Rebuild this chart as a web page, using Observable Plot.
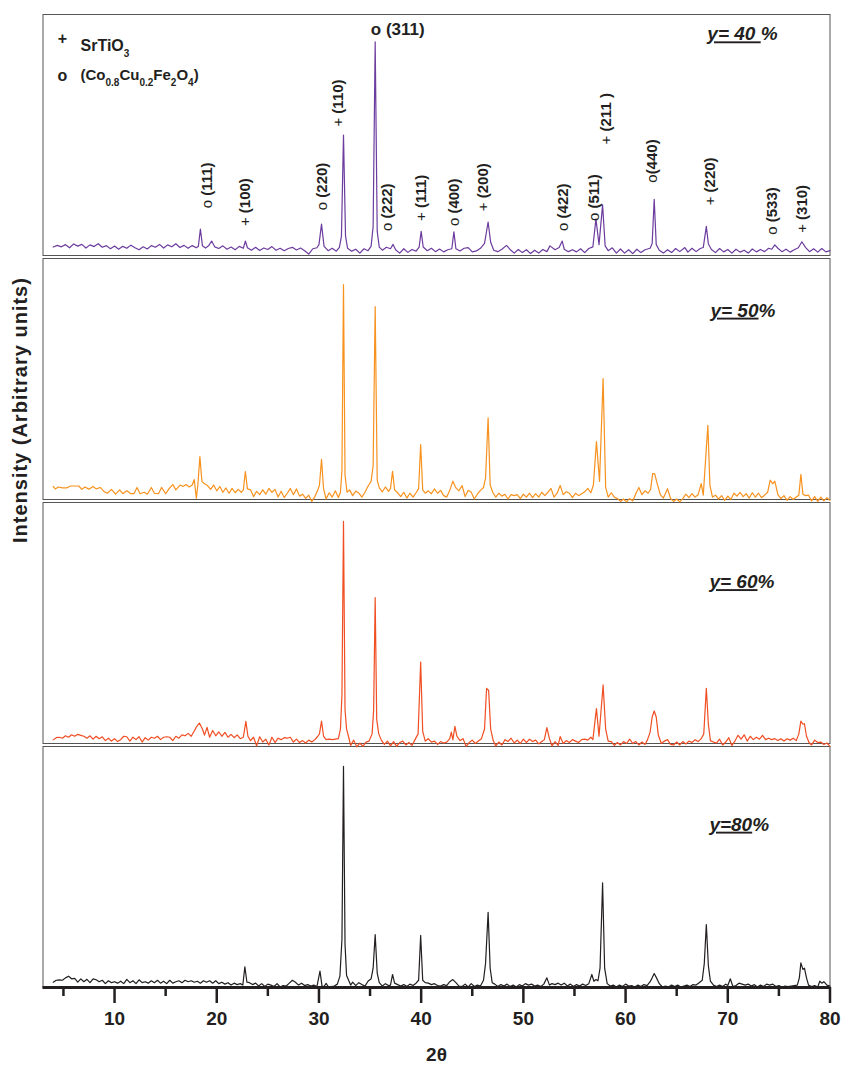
<!DOCTYPE html>
<html><head><meta charset="utf-8">
<script src="https://cdn.jsdelivr.net/npm/d3@7"></script>
<script src="https://cdn.jsdelivr.net/npm/@observablehq/plot@0.6"></script>
<style>
body{margin:0;background:#fff;}
#chart svg{display:block;}
</style>
</head><body><div id="chart"></div>
<script>
// ---- panels ----
const panels = ["40", "50", "60", "80"];
const panelLabels = ["y= 40 %", "y= 50%", "y= 60%", "y=80%"];
const panelColors = ["#6c3c9e", "#f7921e", "#f04e23", "#231f20"];
const panelLabelX = [68.0, 68.3, 68.2, 68.2];
const panelLabelY = [91.8, 78.4, 67.0, 67.6];

// ---- axis ----
const majorTicks = [10, 20, 30, 40, 50, 60, 70, 80];
const minorTicks = [5, 15, 25, 35, 45, 55, 65, 75];
const xTitle = "2θ";
const yTitle = "Intensity (Arbitrary units)";

// ---- legend (top panel) ----
const legendMarkers = ["+", "o"];
const legendNames = ["SrTiO3", "(Co0.8Cu0.2Fe2O4)"];
const legendNameSize = [16, 15];
const legendMarkerY = [89.8, 74.7];
const legendNameY = [86.9, 74.7];

// ---- peak annotations (top panel) ----
const peakLabels = ["o (111)", "+ (100)", "o (220)", "+ (110)", "o (222)", "+ (111)", "o (400)", "+ (200)", "o (422)", "o (511)", "+ (211 )", "o(440)", "+ (220)", "o (533)", "+ (310)"];
const peakLabelX = [19.1, 22.8, 30.35, 31.9, 36.7, 40.0, 43.2, 46.1, 53.9, 56.9, 58.1, 62.6, 68.3, 74.3, 77.3];
const peakLabelY = [19.6, 12.2, 18.8, 53.5, 10.2, 14.3, 12.2, 18.4, 10.2, 14.3, 46.1, 30.2, 20.8, 8.6, 9.4];
const mainPeakLabel = "o (311)";
const mainPeakX = 35.07;
const mainPeakY = 93.9;

// ---- XRD patterns: flat [2θ, intensity, 2θ, intensity, ...] ----
const y40 = [4.0,3.5, 4.4,4.2, 4.8,3.6, 5.2,4.5, 5.6,3.2, 6.0,4.8, 6.4,3.9, 6.8,4.6, 7.2,3.1, 7.6,4.4, 8.0,3.7, 8.4,4.9, 8.8,3.4, 9.2,4.1, 9.6,2.8, 10.0,3.9, 10.4,2.6, 10.8,3.8, 11.2,3.0, 11.6,4.3, 12.0,3.2, 12.4,2.4, 12.8,3.6, 13.2,2.7, 13.6,4.1, 14.0,3.4, 14.4,4.6, 14.8,3.1, 15.2,4.4, 15.6,3.6, 16.0,4.9, 16.4,3.3, 16.8,4.2, 17.2,3.0, 17.6,4.1, 18.0,3.2, 18.2,3.8, 18.4,11.0, 18.6,4.0, 18.9,3.1, 19.2,4.0, 19.5,6.0, 19.8,3.6, 20.2,2.9, 20.6,4.0, 21.0,2.6, 21.4,3.5, 21.8,2.4, 22.2,3.8, 22.6,3.0, 22.8,6.0, 23.0,3.2, 23.4,2.2, 23.8,3.4, 24.2,2.1, 24.6,3.1, 25.0,2.5, 25.4,3.7, 25.8,2.2, 26.2,3.0, 26.6,2.0, 27.0,2.9, 27.4,3.4, 27.8,2.3, 28.2,3.1, 28.6,2.0, 29.0,0.6, 29.4,2.8, 29.8,3.2, 30.0,4.5, 30.25,13.0, 30.5,3.8, 30.9,2.0, 31.3,3.0, 31.7,1.8, 32.0,3.4, 32.2,8.0, 32.4,50.0, 32.6,8.0, 32.8,3.0, 33.2,1.8, 33.6,2.6, 34.0,1.0, 34.4,2.8, 34.8,2.0, 35.1,3.8, 35.3,12.0, 35.5,88.7, 35.7,10.0, 35.9,3.5, 36.2,2.2, 36.6,3.4, 37.0,2.8, 37.25,4.6, 37.5,2.4, 37.9,1.0, 38.3,2.8, 38.7,1.3, 39.1,2.5, 39.5,1.8, 39.8,3.5, 40.0,10.0, 40.2,3.5, 40.6,2.0, 41.0,3.0, 41.4,1.6, 41.8,2.7, 42.2,1.5, 42.6,2.4, 43.0,2.8, 43.2,9.8, 43.4,2.8, 43.8,1.9, 44.2,3.0, 44.6,3.3, 45.0,1.5, 45.4,1.9, 45.8,3.0, 46.2,5.0, 46.55,13.9, 46.8,5.5, 47.1,2.2, 47.5,1.6, 47.9,2.6, 48.35,4.2, 48.7,2.5, 49.1,1.0, 49.5,2.5, 49.9,1.2, 50.3,2.4, 50.7,0.8, 51.1,2.2, 51.5,1.0, 51.9,2.5, 52.3,1.6, 52.6,4.0, 53.1,2.4, 53.5,3.3, 53.8,6.0, 54.0,2.6, 54.4,1.6, 54.8,2.4, 55.2,1.5, 55.6,2.8, 56.0,1.2, 56.4,2.9, 56.8,3.6, 57.1,15.2, 57.4,4.5, 57.75,21.0, 58.0,4.0, 58.3,2.0, 58.7,3.2, 59.1,1.0, 59.5,2.7, 59.9,1.0, 60.3,2.4, 60.7,0.8, 61.1,2.6, 61.5,1.2, 61.9,2.4, 62.4,3.0, 62.6,5.0, 62.8,23.3, 63.0,4.5, 63.3,2.2, 63.7,1.0, 64.1,2.4, 64.5,1.2, 64.9,2.9, 65.3,1.6, 65.8,3.3, 66.1,1.4, 66.5,3.0, 66.9,1.6, 67.3,2.9, 67.6,3.3, 67.9,12.1, 68.1,4.8, 68.4,2.5, 68.8,1.2, 69.2,2.9, 69.6,1.5, 70.0,2.5, 70.4,1.0, 70.8,2.6, 71.2,1.4, 71.6,2.2, 72.0,1.0, 72.4,2.7, 72.8,1.5, 73.2,2.5, 73.6,1.6, 74.0,3.0, 74.3,2.6, 74.6,4.4, 74.9,3.0, 75.3,1.6, 75.7,2.6, 76.1,1.4, 76.5,2.4, 76.9,3.2, 77.25,5.7, 77.6,3.4, 78.0,1.6, 78.4,2.8, 78.8,1.4, 79.2,2.9, 79.6,1.5, 80.0,2.0];

const y50 = [4.0,5.4, 4.2,4.4, 4.5,5.2, 4.9,4.8, 5.3,4.8, 5.7,5.6, 6.1,5.6, 6.5,5.6, 6.8,4.2, 7.1,5.2, 7.5,4.3, 7.9,5.4, 8.2,4.4, 8.6,5.0, 9.0,3.2, 9.3,2.6, 9.7,4.2, 10.1,2.2, 10.5,4.0, 10.8,2.4, 11.2,3.6, 11.6,2.4, 11.9,2.4, 12.2,5.0, 12.5,2.4, 12.9,3.0, 13.2,2.2, 13.6,5.0, 13.9,2.6, 14.3,2.4, 14.6,5.0, 15.0,2.4, 15.4,4.8, 15.7,6.2, 16.0,4.0, 16.4,6.0, 16.7,5.4, 17.0,6.2, 17.3,5.2, 17.6,6.0, 17.8,8.3, 18.0,0.5, 18.15,6.0, 18.35,17.8, 18.55,7.5, 18.8,6.5, 19.1,5.8, 19.4,4.2, 19.7,6.0, 20.0,3.6, 20.3,5.4, 20.6,3.0, 20.9,4.8, 21.2,2.6, 21.5,4.6, 21.8,2.8, 22.1,4.2, 22.4,3.0, 22.6,4.0, 22.8,11.6, 23.0,4.4, 23.3,4.0, 23.6,1.2, 23.9,3.4, 24.2,2.0, 24.5,4.0, 24.8,2.2, 25.1,4.6, 25.4,3.0, 25.7,4.2, 26.0,1.0, 26.3,3.4, 26.6,0.8, 26.9,2.6, 27.2,4.6, 27.5,2.0, 27.8,4.4, 28.1,1.4, 28.4,2.2, 28.7,0.5, 29.0,1.8, 29.3,-0.8, 29.6,1.2, 29.9,4.0, 30.05,6.0, 30.25,16.7, 30.45,4.5, 30.7,0.2, 31.0,2.8, 31.3,1.0, 31.6,3.6, 31.9,0.8, 32.1,3.0, 32.25,12.0, 32.4,89.2, 32.55,10.0, 32.75,3.0, 33.0,4.0, 33.3,1.6, 33.6,3.5, 33.9,2.6, 34.2,1.0, 34.5,3.0, 34.8,5.5, 35.1,7.5, 35.3,14.0, 35.5,80.0, 35.7,8.0, 35.9,4.8, 36.2,3.2, 36.5,5.2, 36.8,3.4, 37.0,4.6, 37.2,11.7, 37.4,4.0, 37.7,2.8, 38.0,1.2, 38.3,3.0, 38.6,0.6, 38.9,2.6, 39.2,1.0, 39.5,2.8, 39.75,4.5, 39.95,22.8, 40.15,4.0, 40.4,2.6, 40.7,3.6, 41.0,2.4, 41.3,4.4, 41.6,2.6, 41.9,3.8, 42.2,1.6, 42.5,1.0, 42.8,3.8, 43.1,7.6, 43.4,4.8, 43.7,3.6, 44.0,5.8, 44.3,1.2, 44.6,3.8, 44.9,3.0, 45.2,0.2, 45.5,2.2, 45.8,3.8, 46.1,5.0, 46.3,9.0, 46.55,33.9, 46.75,6.0, 47.0,3.0, 47.3,1.0, 47.6,2.6, 47.9,1.4, 48.2,2.2, 48.5,0.2, 48.8,2.0, 49.1,1.6, 49.4,2.0, 49.7,0.4, 50.0,2.2, 50.3,1.0, 50.6,2.6, 50.9,0.8, 51.2,2.4, 51.5,1.0, 51.8,3.0, 52.1,1.6, 52.4,3.0, 52.7,4.6, 53.0,1.0, 53.3,2.6, 53.6,5.8, 53.9,2.0, 54.2,3.2, 54.5,2.6, 54.8,0.8, 55.1,2.6, 55.4,1.6, 55.7,2.4, 56.0,3.2, 56.3,4.6, 56.6,2.8, 56.85,6.0, 57.15,24.0, 57.45,7.5, 57.8,50.2, 58.05,5.0, 58.3,1.0, 58.6,2.8, 58.9,1.0, 59.2,0.4, 59.5,-0.8, 59.8,0.2, 60.1,-1.0, 60.4,0.4, 60.7,-0.6, 61.0,2.4, 61.3,5.0, 61.6,2.0, 61.9,3.6, 62.2,2.6, 62.45,4.2, 62.65,10.8, 62.85,10.6, 63.1,6.5, 63.4,2.0, 63.7,0.6, 64.1,4.5, 64.4,0.4, 64.7,-0.8, 65.0,0.2, 65.3,-1.0, 65.6,0.4, 65.9,2.2, 66.2,0.8, 66.5,2.4, 66.8,1.0, 67.1,2.0, 67.4,6.6, 67.6,1.8, 67.85,18.0, 68.05,30.8, 68.25,6.0, 68.5,1.0, 68.8,1.8, 69.1,0.2, 69.4,1.6, 69.7,-0.4, 70.0,1.4, 70.3,0.0, 70.6,2.6, 70.9,1.4, 71.2,3.0, 71.5,1.2, 71.8,2.4, 72.1,0.6, 72.4,2.8, 72.7,1.0, 73.0,2.6, 73.3,0.8, 73.6,1.8, 73.9,3.0, 74.15,8.0, 74.4,6.5, 74.6,7.6, 74.9,2.0, 75.2,0.4, 75.5,1.6, 75.8,-0.4, 76.1,1.2, 76.4,0.0, 76.7,1.0, 76.95,1.8, 77.15,10.4, 77.35,2.2, 77.6,1.6, 77.9,1.8, 78.2,-0.6, 78.5,1.2, 78.8,-0.8, 79.1,1.0, 79.4,-0.6, 79.7,0.8, 80.0,-0.4];

const y60 = [4.0,1.5, 4.3,2.4, 4.6,2.6, 4.9,2.2, 5.2,3.2, 5.5,2.6, 5.8,3.6, 6.1,3.0, 6.4,3.8, 6.7,3.4, 7.0,3.0, 7.3,2.2, 7.6,3.2, 7.9,1.8, 8.2,3.0, 8.5,2.0, 8.8,2.8, 9.1,1.2, 9.4,2.2, 9.7,1.0, 10.0,2.0, 10.3,0.8, 10.6,1.6, 10.9,3.0, 11.2,2.8, 11.5,1.0, 11.8,2.6, 12.1,1.6, 12.4,2.8, 12.7,0.6, 13.0,2.4, 13.3,1.4, 13.6,2.6, 13.9,2.2, 14.2,3.0, 14.5,1.6, 14.8,2.6, 15.1,2.8, 15.4,2.6, 15.7,1.2, 16.0,3.0, 16.3,2.2, 16.6,3.6, 16.9,3.2, 17.2,4.2, 17.5,3.0, 17.8,5.2, 18.0,6.8, 18.3,8.5, 18.6,6.0, 18.8,3.5, 19.05,6.7, 19.3,2.6, 19.6,5.4, 19.9,3.2, 20.2,4.8, 20.5,3.0, 20.8,4.6, 21.1,2.6, 21.4,3.8, 21.7,2.4, 22.0,3.6, 22.3,2.0, 22.6,2.6, 22.85,9.2, 23.05,3.0, 23.3,1.2, 23.6,2.6, 23.9,-1.0, 24.2,2.8, 24.5,0.6, 24.8,1.8, 25.1,-0.6, 25.4,2.6, 25.7,0.4, 26.0,2.2, 26.3,1.6, 26.6,2.4, 26.9,2.2, 27.2,2.6, 27.5,0.6, 27.8,1.8, 28.1,0.4, 28.4,1.2, 28.7,0.2, 29.0,1.4, 29.3,0.6, 29.6,1.6, 29.85,2.8, 30.05,4.0, 30.25,9.3, 30.45,3.0, 30.7,1.6, 31.0,1.8, 31.3,1.6, 31.6,1.8, 31.9,2.0, 32.1,6.0, 32.25,20.0, 32.4,92.2, 32.55,14.0, 32.7,6.0, 32.9,2.8, 33.1,-0.8, 33.4,1.4, 33.7,-1.4, 34.0,0.2, 34.3,-1.2, 34.6,0.6, 34.9,1.0, 35.2,4.0, 35.35,14.0, 35.5,60.5, 35.65,10.0, 35.85,4.0, 36.1,1.4, 36.4,-0.4, 36.7,1.0, 37.0,-1.0, 37.3,0.8, 37.6,-1.2, 37.9,0.4, 38.2,1.0, 38.5,-0.6, 38.8,0.4, 39.1,-0.8, 39.4,1.6, 39.7,4.0, 39.95,33.8, 40.15,5.0, 40.4,1.0, 40.7,2.0, 41.0,0.6, 41.3,1.0, 41.6,-0.4, 41.9,0.8, 42.2,0.2, 42.5,0.6, 42.8,2.0, 42.95,4.7, 43.1,1.5, 43.3,7.1, 43.5,3.0, 43.8,1.2, 44.1,2.0, 44.4,-1.2, 44.7,0.4, 45.0,1.4, 45.3,0.0, 45.6,1.0, 45.9,2.0, 46.2,6.0, 46.4,22.9, 46.6,22.0, 46.8,6.0, 47.05,1.2, 47.3,-1.0, 47.6,0.6, 47.9,-0.6, 48.2,1.6, 48.5,0.8, 48.8,2.2, 49.1,0.2, 49.4,1.4, 49.7,0.0, 50.0,1.8, 50.3,0.4, 50.6,1.8, 50.9,0.8, 51.2,1.4, 51.5,-0.2, 51.8,0.8, 52.05,1.6, 52.3,6.6, 52.55,2.0, 52.8,-1.0, 53.1,0.8, 53.4,-0.8, 53.6,2.9, 53.9,0.0, 54.2,1.2, 54.5,0.4, 54.8,1.6, 55.1,1.0, 55.4,0.4, 55.7,1.6, 56.0,1.8, 56.3,1.4, 56.6,2.6, 56.8,1.6, 57.15,14.5, 57.4,3.0, 57.8,24.3, 58.05,6.0, 58.3,1.0, 58.6,0.8, 58.9,-0.8, 59.2,0.4, 59.5,-0.6, 59.8,0.8, 60.1,0.0, 60.4,1.8, 60.7,0.0, 61.0,0.8, 61.3,-0.6, 61.6,0.6, 61.9,-0.4, 62.15,1.6, 62.4,4.7, 62.6,11.0, 62.8,13.5, 63.0,11.0, 63.2,3.5, 63.5,0.0, 63.8,1.0, 64.1,1.6, 64.4,-0.4, 64.7,-0.6, 65.0,0.6, 65.3,-0.6, 65.6,0.8, 65.9,-0.2, 66.2,1.0, 66.5,0.4, 66.8,1.6, 67.1,0.8, 67.4,2.0, 67.65,4.0, 67.9,22.9, 68.1,8.0, 68.3,1.2, 68.6,0.6, 68.9,0.2, 69.2,1.8, 69.5,-0.6, 69.8,0.6, 70.1,2.4, 70.4,-0.8, 70.7,1.0, 71.0,3.4, 71.3,1.8, 71.6,3.6, 71.9,1.0, 72.2,3.0, 72.5,1.6, 72.8,2.6, 73.1,1.8, 73.4,3.4, 73.7,1.6, 74.0,2.2, 74.3,1.6, 74.6,2.0, 74.9,1.2, 75.2,2.0, 75.5,1.0, 75.8,2.0, 76.1,1.4, 76.4,2.2, 76.7,1.2, 76.95,4.0, 77.15,9.3, 77.35,8.0, 77.5,8.2, 77.7,3.0, 77.95,0.4, 78.2,-0.6, 78.5,1.4, 78.8,0.4, 79.1,0.6, 79.4,-0.4, 79.7,0.2, 80.0,-1.2];

const y80 = [4.0,2.2, 4.3,3.0, 4.6,3.2, 4.9,3.0, 5.2,4.0, 5.5,4.7, 5.8,3.6, 6.1,3.8, 6.4,2.2, 6.7,3.6, 7.0,2.4, 7.3,3.4, 7.6,2.0, 7.9,3.6, 8.2,3.2, 8.5,2.4, 8.8,3.0, 9.1,1.6, 9.4,2.8, 9.7,2.0, 10.0,2.4, 10.3,1.8, 10.6,2.6, 10.9,1.6, 11.2,3.4, 11.5,2.0, 11.8,2.8, 12.1,1.6, 12.4,3.2, 12.7,2.0, 13.0,2.4, 13.3,1.8, 13.6,2.8, 13.9,2.0, 14.2,3.0, 14.5,1.8, 14.8,2.6, 15.1,1.6, 15.4,3.0, 15.7,1.8, 16.0,2.4, 16.3,2.8, 16.6,2.0, 16.9,3.0, 17.2,2.4, 17.5,2.8, 17.8,2.2, 18.1,2.6, 18.4,1.8, 18.7,2.8, 19.0,2.2, 19.3,2.8, 19.6,1.8, 19.9,2.8, 20.2,1.6, 20.5,2.2, 20.8,1.4, 21.1,2.0, 21.4,1.0, 21.7,1.8, 22.0,1.2, 22.3,1.6, 22.55,1.0, 22.75,8.6, 22.95,2.2, 23.2,2.0, 23.5,1.2, 23.8,1.8, 24.1,0.6, 24.4,1.6, 24.7,0.4, 25.0,1.4, 25.3,1.0, 25.6,0.4, 25.9,1.6, 26.2,0.2, 26.5,0.8, 26.8,0.6, 27.1,1.8, 27.4,3.0, 27.7,2.2, 28.0,1.0, 28.3,1.8, 28.6,0.8, 28.9,1.2, 29.2,0.6, 29.5,1.0, 29.8,0.4, 30.1,6.8, 30.3,0.6, 30.5,0.4, 30.7,1.7, 30.9,0.4, 31.2,0.4, 31.5,0.6, 31.8,1.4, 32.05,4.7, 32.25,20.0, 32.4,91.8, 32.55,18.0, 32.7,5.0, 32.9,3.0, 33.1,1.0, 33.3,2.2, 33.6,0.8, 33.9,2.0, 34.2,1.2, 34.5,0.6, 34.8,2.6, 35.1,3.6, 35.3,8.0, 35.5,22.0, 35.7,6.0, 35.9,2.0, 36.2,0.6, 36.5,1.6, 36.8,0.8, 37.0,1.0, 37.2,5.4, 37.4,1.8, 37.7,1.2, 38.0,0.6, 38.3,1.2, 38.6,0.4, 38.9,1.4, 39.2,0.8, 39.5,1.8, 39.75,3.0, 39.95,21.6, 40.15,3.0, 40.4,2.0, 40.7,1.8, 41.0,1.2, 41.3,1.6, 41.6,0.8, 41.9,0.6, 42.2,1.2, 42.5,0.8, 42.8,2.4, 43.1,3.3, 43.4,2.0, 43.7,0.6, 44.0,0.4, 44.3,1.4, 44.6,0.2, 44.9,1.6, 45.2,0.4, 45.5,1.0, 45.8,0.6, 46.1,3.0, 46.3,10.0, 46.55,31.2, 46.75,8.0, 46.95,2.0, 47.2,1.4, 47.5,0.4, 47.8,1.2, 48.1,0.6, 48.4,1.4, 48.7,0.4, 49.0,1.0, 49.3,0.2, 49.6,1.2, 49.9,0.6, 50.2,1.6, 50.5,1.0, 50.8,1.4, 51.1,0.6, 51.4,1.0, 51.7,0.4, 52.0,1.4, 52.3,4.0, 52.55,1.0, 52.8,1.6, 53.1,1.2, 53.4,1.8, 53.7,1.0, 54.0,1.8, 54.3,0.6, 54.6,1.4, 54.9,0.4, 55.2,1.2, 55.5,0.6, 55.8,1.4, 56.1,0.8, 56.4,1.6, 56.7,5.4, 56.9,2.6, 57.1,3.3, 57.3,2.8, 57.5,8.0, 57.75,43.4, 57.95,8.0, 58.2,1.6, 58.5,0.6, 58.8,1.0, 59.1,0.2, 59.4,1.0, 59.7,0.4, 60.0,1.4, 60.3,0.6, 60.6,0.8, 60.9,0.2, 61.2,1.0, 61.5,0.4, 61.8,1.2, 62.1,0.8, 62.4,2.4, 62.6,4.0, 62.8,5.8, 63.0,4.2, 63.3,1.6, 63.6,0.2, 63.9,0.6, 64.2,0.2, 64.5,1.0, 64.8,0.4, 65.1,1.0, 65.4,0.2, 65.7,0.6, 66.0,1.0, 66.3,0.4, 66.6,1.2, 66.9,1.0, 67.2,2.0, 67.5,3.0, 67.7,10.0, 67.9,26.1, 68.1,9.0, 68.3,2.6, 68.6,1.0, 68.9,0.4, 69.2,1.0, 69.5,0.4, 69.8,1.4, 70.0,0.8, 70.25,3.6, 70.5,0.4, 70.8,0.8, 71.1,1.8, 71.4,1.4, 71.7,1.0, 72.0,1.4, 72.3,0.6, 72.6,1.2, 72.9,0.2, 73.2,1.0, 73.5,0.4, 73.8,1.4, 74.1,1.0, 74.4,1.4, 74.7,0.4, 75.0,0.8, 75.3,0.2, 75.6,0.6, 75.9,0.4, 76.2,0.6, 76.5,0.8, 76.8,1.0, 77.0,4.0, 77.15,10.2, 77.35,7.5, 77.5,8.0, 77.7,4.0, 77.9,1.0, 78.2,0.4, 78.5,0.8, 78.8,0.2, 79.0,2.6, 79.2,1.8, 79.4,2.4, 79.7,1.0, 80.0,0.6];

// ---- build tables ----
const seriesByPanel = {"40": y40, "50": y50, "60": y60, "80": y80};
function toRows(panel, flat) {
  const out = [];
  for (let i = 0; i < flat.length; i += 2) out.push({panel, x: flat[i], y: flat[i + 1]});
  return out;
}
const rows = panels.flatMap(p => toRows(p, seriesByPanel[p]));
const panelLabelRows = panels.map((p, i) => ({panel: p, x: panelLabelX[i], y: panelLabelY[i], text: panelLabels[i]}));
const peakRows = peakLabels.map((t, i) => ({panel: "40", x: peakLabelX[i], y: peakLabelY[i], text: t}));
const legendMarkerRows = legendMarkers.map((t, i) => ({panel: "40", x: 4.9, y: legendMarkerY[i], text: t}));
const legendNameRows = legendNames.map((t, i) => ({panel: "40", x: 6.67, y: legendNameY[i], text: t, size: legendNameSize[i]}));

const font = "'Liberation Sans', Arial, Helvetica, sans-serif";

const chart = Plot.plot({
  width: 843, height: 1065,
  marginTop: 13, marginBottom: 77, marginLeft: 42.5, marginRight: 13.5,
  style: {fontFamily: font, background: "#fff", color: "#231f20", overflow: "visible"},
  x: {domain: [3, 80], label: null},
  y: {domain: [0, 100], axis: null, label: null},
  fy: {domain: panels, axis: null, paddingInner: 0.0125, paddingOuter: 0, label: null},
  color: {domain: panels, range: panelColors},
  marks: [
    Plot.frame({stroke: "#555", strokeWidth: 1}),
    Plot.line(rows, {x: "x", y: "y", fy: "panel", z: "panel", stroke: "panel", strokeWidth: 1.2}),
    Plot.ruleY([0], {facetAnchor: "bottom", stroke: "#231f20", strokeWidth: 3}),
    Plot.axisX(majorTicks, {facetAnchor: "bottom", tickSize: 16, tickPadding: 8, strokeWidth: 2.5, fontSize: 19, fontWeight: "bold", label: null, tickFormat: d => String(d)}),
    Plot.axisX(minorTicks, {facetAnchor: "bottom", tickSize: 9, strokeWidth: 2.5, label: null, tickFormat: () => ""}),
    Plot.text([xTitle], {frameAnchor: "bottom", dy: 67, lineAnchor: "middle", facetAnchor: "bottom", fontSize: 19, fontWeight: "bold"}),
    Plot.text([{panel: "50", y: 37.1, text: yTitle}], {fy: "panel", y: "y", text: "text", frameAnchor: "left", dx: -22.5, rotate: -90, textAnchor: "middle", fontSize: 20, fontWeight: "bold"}),
    Plot.text(panelLabelRows, {fy: "panel", x: "x", y: "y", text: "text", textAnchor: "start", fontSize: 19, fontWeight: "bold", fontStyle: "italic"}),
    Plot.text(peakRows, {fy: "panel", x: "x", y: "y", text: "text", rotate: -90, textAnchor: "start", lineAnchor: "middle", fontSize: 15, fontWeight: "bold"}),
    Plot.text([{panel: "40", x: mainPeakX, y: mainPeakY, text: mainPeakLabel}], {fy: "panel", x: "x", y: "y", text: "text", textAnchor: "start", fontSize: 17, fontWeight: "bold"}),
    Plot.text(legendMarkerRows, {fy: "panel", x: "x", y: "y", text: "text", textAnchor: "middle", fontSize: 16, fontWeight: "bold"}),
    Plot.text(legendNameRows, {fy: "panel", x: "x", y: "y", text: "text", textAnchor: "start", fontSize: "size", fontWeight: "bold"})
  ]
});
document.getElementById("chart").appendChild(chart);

// ---- text styling: subscripts, underline, thin phase markers ----
d3.select(chart).selectAll("text").each(function () {
  const s = this.textContent;
  const el = d3.select(this);
  if (legendNames.includes(s)) {
    el.text(null);
    const parts = s.split(/(\d+(?:\.\d+)?)/).filter(p => p !== "");
    let sub = false;
    parts.forEach(p => {
      const isSub = /^\d/.test(p);
      const t = el.append("tspan").text(p);
      if (isSub && !sub) t.attr("dy", 6);
      if (!isSub && sub) t.attr("dy", -6);
      if (isSub) t.attr("font-size", 10);
      sub = isSub;
    });
  } else if (panelLabels.includes(s)) {
    const i = s.indexOf("%");
    el.text(null);
    el.append("tspan").attr("text-decoration", "underline").style("text-decoration-skip-ink", "none").text(s.slice(0, i));
    el.append("tspan").text(s.slice(i));
  } else if (peakLabels.includes(s)) {
    el.text(null);
    el.append("tspan").attr("font-weight", "normal").text(s.slice(0, 1));
    el.append("tspan").text(s.slice(1));
  } else if (s === yTitle) {
    el.style("letter-spacing", "1px");
  }
});
</script>
</body></html>
